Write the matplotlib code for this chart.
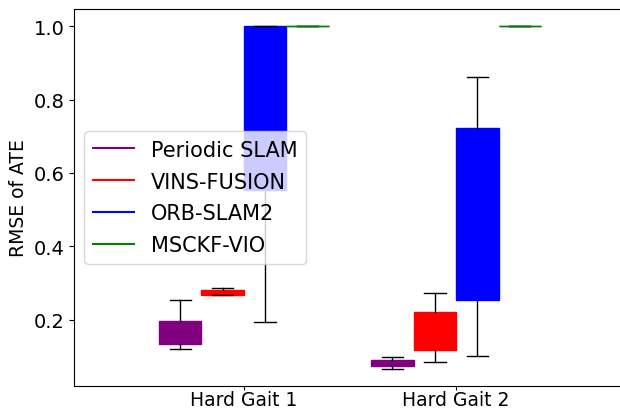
import matplotlib
matplotlib.use('Agg')
import matplotlib.pyplot as plt

# ================= 数据 =================
GAITS = ['Hard Gait 1', 'Hard Gait 2']
METHODS = ['Periodic SLAM', 'VINS-FUSION', 'ORB-SLAM2', 'MSCKF-VIO']
COLORS = ['purple', 'red', 'blue', 'green']
OFFSETS = [-0.3, -0.1, 0.1, 0.3]   # 每个方法相对 gait 的偏移

# 每行一个方法, 每列一个 gait
whis_lo = [[0.120, 0.066], [0.266, 0.085], [0.194, 0.100], [1.0, 1.0]]
q1      = [[0.135, 0.074], [0.267, 0.118], [0.553, 0.253], [1.0, 1.0]]
med     = [[0.160, 0.082], [0.275, 0.160], [0.800, 0.500], [1.0, 1.0]]
q3      = [[0.196, 0.091], [0.282, 0.221], [1.000, 0.723], [1.0, 1.0]]
whis_hi = [[0.254, 0.097], [0.286, 0.272], [1.000, 0.862], [1.0, 1.0]]

fig = plt.figure(figsize=(6.2, 4.1), dpi=100)
# 右侧边框被裁掉, 所以坐标轴略超出画布
ax = fig.add_axes([74 / 620, 23 / 410, 552 / 620, 377 / 410])

for i, (name, c) in enumerate(zip(METHODS, COLORS)):
    stats = []
    for g in range(len(GAITS)):
        stats.append({'whislo': whis_lo[i][g], 'q1': q1[i][g], 'med': med[i][g],
                      'q3': q3[i][g], 'whishi': whis_hi[i][g], 'fliers': []})
    pos = [g + 1 + OFFSETS[i] for g in range(len(GAITS))]
    ax.bxp(stats, positions=pos, widths=0.2, patch_artist=True, showfliers=False,
           boxprops=dict(facecolor=c, edgecolor=c),
           medianprops=dict(color=c),
           whiskerprops=dict(color='black'),
           capprops=dict(color='black'),
           manage_ticks=False)
    ax.plot([], [], color=c, label=name)

ax.set_xlim(0.2, 2.8)
ax.set_xticks([1, 2])
ax.set_xticklabels(GAITS, fontsize=13.5)
ax.tick_params(axis='x', length=3.1, pad=0)
ax.set_yticks([0.2, 0.4, 0.6, 0.8, 1.0])
ax.tick_params(axis='y', labelsize=14)
ax.set_ylabel('RMSE of ATE', fontsize=13.5)
ax.legend(loc='center left', fontsize=15, labelspacing=0.57)

fig.savefig('out.png', dpi=100)
